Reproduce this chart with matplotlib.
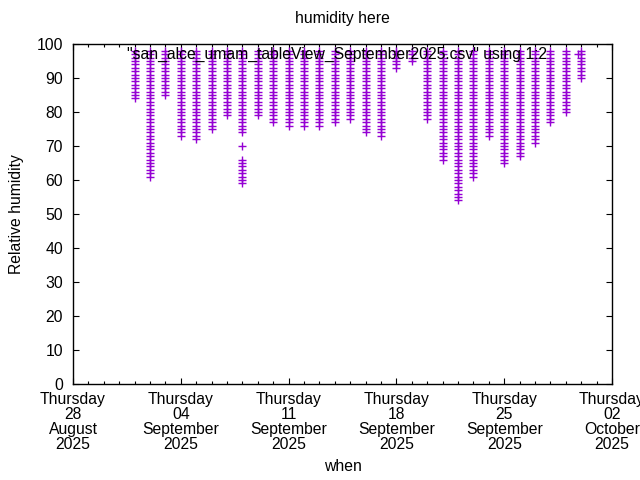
import matplotlib
matplotlib.use("Agg")
import matplotlib.pyplot as plt
import matplotlib.dates as mdates
import numpy as np
import datetime as dt

plt.rcParams['font.family'] = ['Liberation Sans', 'DejaVu Sans']

# ---- data (one column of integer readings per day) ----
days = ['2025-09-%02d' % d for d in range(1, 31)]

sep01 = [84, 85, 86, 87, 88, 89, 90, 91, 92, 93, 94, 95, 96, 97, 98]
sep02 = [61, 62, 63, 64, 65, 66, 67, 68, 69, 70, 71, 72, 73, 74, 75, 76, 77, 78, 79, 80,
         81, 82, 83, 84, 85, 86, 87, 88, 89, 90, 91, 92, 93, 94, 95, 96, 97, 98]
sep03 = [85, 86, 87, 88, 89, 90, 91, 92, 93, 94, 95, 96, 97, 98]
sep04 = [73, 74, 75, 76, 77, 78, 79, 80, 81, 82, 83, 84, 85, 86, 87, 88, 89, 90, 91, 92,
         93, 94, 95, 96, 97, 98]
sep05 = [72, 73, 74, 75, 76, 77, 78, 79, 80, 81, 82, 83, 84, 85, 86, 87, 88, 89, 90, 91,
         92, 93, 94, 95, 96, 97, 98]
sep06 = [75, 76, 77, 78, 79, 80, 81, 82, 83, 84, 85, 86, 87, 88, 89, 90, 91, 92, 93, 94,
         95, 96, 97, 98]
sep07 = [79, 80, 81, 82, 83, 84, 85, 86, 87, 88, 89, 90, 91, 92, 93, 94, 95, 96, 97, 98]
sep08 = [59, 60, 61, 62, 63, 64, 65, 66, 70, 74, 75, 76, 77, 78, 79, 80, 81, 82, 83, 84,
         85, 86, 87, 88, 89, 90, 91, 92, 93, 94, 95, 96, 97, 98]
sep09 = [79, 80, 81, 82, 83, 84, 85, 86, 87, 88, 89, 90, 91, 92, 93, 94, 95, 96, 97, 98]
sep10 = [77, 78, 79, 80, 81, 82, 83, 84, 85, 86, 87, 88, 89, 90, 91, 92, 93, 94, 95, 96,
         97, 98]
sep11 = [76, 77, 78, 79, 80, 81, 82, 83, 84, 85, 86, 87, 88, 89, 90, 91, 92, 93, 94, 95,
         96, 97, 98]
sep12 = [76, 77, 78, 79, 80, 81, 82, 83, 84, 85, 86, 87, 88, 89, 90, 91, 92, 93, 94, 95,
         96, 97, 98]
sep13 = [76, 77, 78, 79, 80, 81, 82, 83, 84, 85, 86, 87, 88, 89, 90, 91, 92, 93, 94, 95,
         96, 97, 98]
sep14 = [77, 78, 79, 80, 81, 82, 83, 84, 85, 86, 87, 88, 89, 90, 91, 92, 93, 94, 95, 96,
         97, 98]
sep15 = [78, 79, 80, 81, 82, 83, 84, 85, 86, 87, 88, 89, 90, 91, 92, 93, 94, 95, 96, 97, 98]
sep16 = [74, 75, 76, 77, 78, 79, 80, 81, 82, 83, 84, 85, 86, 87, 88, 89, 90, 91, 92, 93,
         94, 95, 96, 97, 98]
sep17 = [73, 74, 75, 76, 77, 78, 79, 80, 81, 82, 83, 84, 85, 86, 87, 88, 89, 90, 91, 92,
         93, 94, 95, 96, 97, 98]
sep18 = [93, 94, 95, 96, 97, 98]
sep19 = [95, 96, 97, 98]
sep20 = [78, 79, 80, 81, 82, 83, 84, 85, 86, 87, 88, 89, 90, 91, 92, 93, 94, 95, 96, 97, 98]
sep21 = [66, 67, 68, 69, 70, 71, 72, 73, 74, 75, 76, 77, 78, 79, 80, 81, 82, 83, 84, 85,
         86, 87, 88, 89, 90, 91, 92, 93, 94, 95, 96, 97, 98]
sep22 = [54, 55, 56, 57, 58, 59, 60, 61, 62, 63, 64, 65, 66, 67, 68, 69, 70, 71, 72, 73,
         74, 75, 76, 77, 78, 79, 80, 81, 82, 83, 84, 85, 86, 87, 88, 89, 90, 91, 92, 93,
         94, 95, 96, 97, 98]
sep23 = [61, 62, 63, 64, 65, 66, 67, 68, 69, 70, 71, 72, 73, 74, 75, 76, 77, 78, 79, 80,
         81, 82, 83, 84, 85, 86, 87, 88, 89, 90, 91, 92, 93, 94, 95, 96, 97, 98]
sep24 = [73, 74, 75, 76, 77, 78, 79, 80, 81, 82, 83, 84, 85, 86, 87, 88, 89, 90, 91, 92,
         93, 94, 95, 96, 97, 98]
sep25 = [65, 66, 67, 68, 69, 70, 71, 72, 73, 74, 75, 76, 77, 78, 79, 80, 81, 82, 83, 84,
         85, 86, 87, 88, 89, 90, 91, 92, 93, 94, 95, 96, 97, 98]
sep26 = [67, 68, 69, 70, 71, 72, 73, 74, 75, 76, 77, 78, 79, 80, 81, 82, 83, 84, 85, 86,
         87, 88, 89, 90, 91, 92, 93, 94, 95, 96, 97, 98]
sep27 = [71, 72, 73, 74, 75, 76, 77, 78, 79, 80, 81, 82, 83, 84, 85, 86, 87, 88, 89, 90,
         91, 92, 93, 94, 95, 96, 97, 98]
sep28 = [77, 78, 79, 80, 81, 82, 83, 84, 85, 86, 87, 88, 89, 90, 91, 92, 93, 94, 95, 96,
         97, 98]
sep29 = [80, 81, 82, 83, 84, 85, 86, 87, 88, 89, 90, 91, 92, 93, 94, 95, 96, 97, 98]
sep30 = [90, 91, 92, 93, 94, 95, 96, 97, 98]

humidity = [sep01, sep02, sep03, sep04, sep05, sep06, sep07, sep08, sep09, sep10,
            sep11, sep12, sep13, sep14, sep15, sep16, sep17, sep18, sep19, sep20,
            sep21, sep22, sep23, sep24, sep25, sep26, sep27, sep28, sep29, sep30]

x_start = '2025-08-28'
x_end = '2025-10-02'
y_ticks = [0, 10, 20, 30, 40, 50, 60, 70, 80, 90, 100]

title = 'humidity here'
key_label = '"san_alce_umam_tableView_September2025.csv" using 1:2'
x_label = 'when'
y_label = 'Relative humidity'
colour = '#9400D3'
fs = 11.3

# ---- figure ----
fig = plt.figure(figsize=(6.4, 4.8), dpi=100)
ax = fig.add_axes([73 / 640, 1 - 384 / 480, (612 - 73) / 640, (384 - 44) / 480])

xs, ys = [], []
for d, vals in zip(days, humidity):
    day = dt.datetime.strptime(d, '%Y-%m-%d')
    xs.extend([day] * len(vals))
    ys.extend(vals)
ax.plot(xs, ys, linestyle='none', marker='+', color=colour,
        markersize=6, markeredgewidth=1.0, label=key_label)

ax.set_xlim(dt.datetime.strptime(x_start, '%Y-%m-%d'),
            dt.datetime.strptime(x_end, '%Y-%m-%d'))
ax.set_ylim(0, 100)
ax.set_yticks(y_ticks)

ax.xaxis.set_major_locator(mdates.WeekdayLocator(byweekday=mdates.TH))
ax.xaxis.set_minor_locator(mdates.DayLocator())
ax.xaxis.set_major_formatter(mdates.DateFormatter('%A\n%d\n%B\n%Y'))

ax.tick_params(axis='both', which='both', direction='in', top=True, right=True,
               labelsize=fs, width=0.8, colors='black')
ax.tick_params(axis='both', which='major', length=4.5)
ax.tick_params(axis='both', which='minor', length=2.5)
ax.tick_params(axis='y', pad=7.2)
ax.tick_params(axis='x', pad=5.5)
for lab in ax.get_xticklabels():
    lab.set_linespacing(1.0)

for s in ax.spines.values():
    s.set_linewidth(1.0)

ax.set_title(title, fontsize=fs, pad=15)
ax.set_xlabel(x_label, fontsize=fs, labelpad=5.5)
ax.set_ylabel(y_label, fontsize=fs, labelpad=9)

leg = ax.legend(loc='center right', bbox_to_anchor=(0.966, 0.968), frameon=False,
                markerfirst=False, numpoints=1, fontsize=fs, borderaxespad=0,
                borderpad=0, handlelength=2.0, handletextpad=1.0)

fig.savefig('out.png', dpi=100)
